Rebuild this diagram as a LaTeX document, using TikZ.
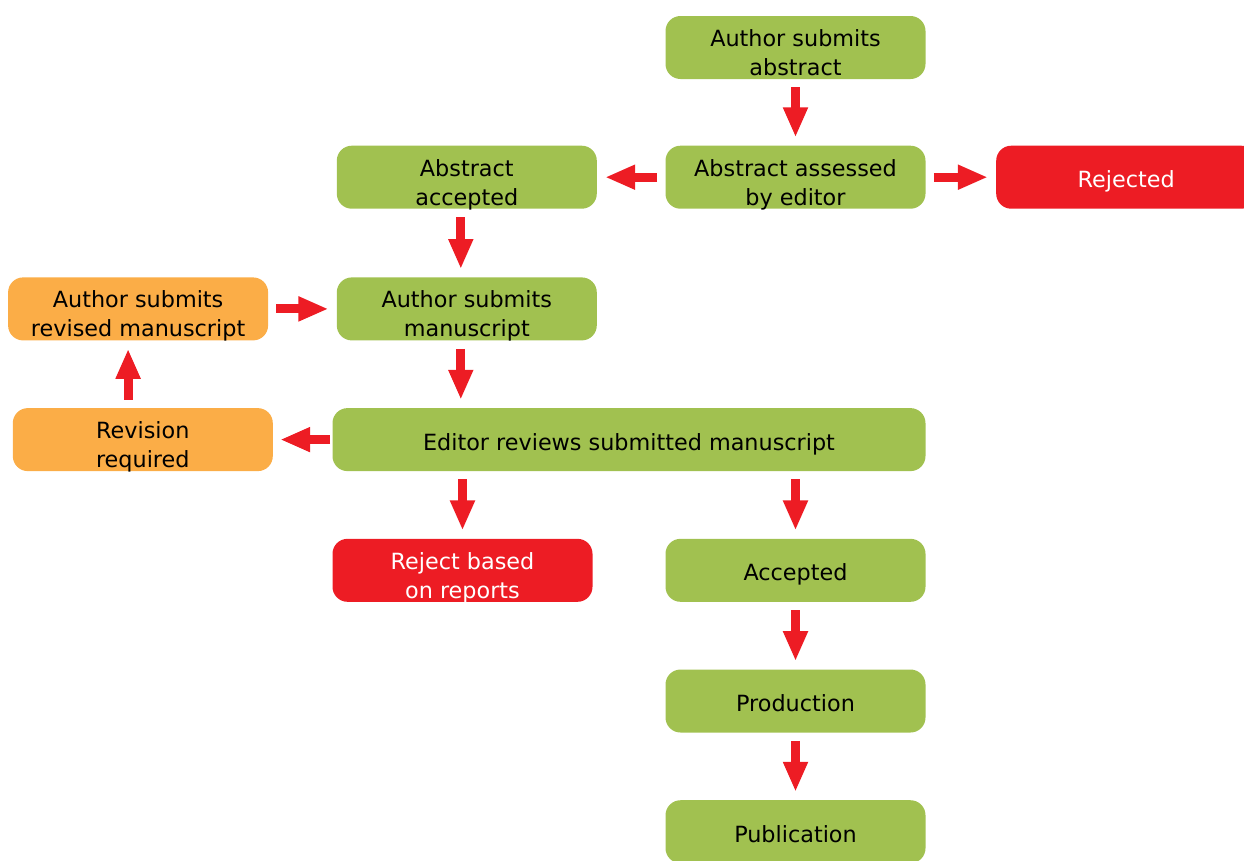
\documentclass[tikz,border=0pt]{standalone}
\usepackage{fontspec}
\setmainfont{DejaVu Sans}
\usepackage{tikz}
\usetikzlibrary{positioning,arrows.meta}
\definecolor{boxgreen}{HTML}{A1C150}
\definecolor{boxorange}{HTML}{FBAD47}
\definecolor{boxred}{HTML}{ED1C24}
\definecolor{arrowred}{HTML}{ED1C24}
\newcommand{\stagetext}[1]{\raisebox{0pt}[\height][\dimexpr\depth-0.3cm\relax]{\begin{tabular}{@{}c@{}}#1\end{tabular}}}
\tikzset{
  stage/.style={rounded corners=0.3cm, minimum width=5.2cm, minimum height=1.26cm,
    inner sep=0pt, font=\fontsize{12.7}{16.5}\selectfont},
  greenbox/.style={stage, fill=boxgreen, text=black},
  orangebox/.style={stage, fill=boxorange, text=black},
  redbox/.style={stage, fill=boxred, text=white},
  flow/.style={draw=arrowred, line width=0.18cm, shorten <=0.16cm, shorten >=0.16cm,
    -{Triangle[width=0.46cm,length=0.6cm]}}
}
\begin{document}
\begin{tikzpicture}
\useasboundingbox (0,0) rectangle (24.88,-17.2);
% nodes
\node[greenbox] (abs) at (15.91,-0.95) {\stagetext{Author submits\\abstract}};
\node[greenbox, below=1.32cm of abs] (assess) {\stagetext{Abstract assessed\\by editor}};
\node[greenbox, left=1.36cm of assess] (acc) {\stagetext{Abstract\\accepted}};
\node[redbox, right=1.4cm of assess] (rejab) {\stagetext{Rejected}};
\node[greenbox, below=1.36cm of acc] (ms) {\stagetext{Author submits\\manuscript}};
\node[orangebox, left=1.36cm of ms] (revised) {\stagetext{Author submits\\revised manuscript}};
\coordinate (edcorner) at (ms.south -| assess.east);
\node[greenbox, minimum width=11.86cm, below=1.34cm of edcorner, anchor=north east] (editor) {\stagetext{Editor reviews submitted manuscript}};
\node[orangebox, left=1.18cm of editor] (revreq) {\stagetext{Revision\\required}};
\node[redbox, below=1.34cm of editor.south west, anchor=north west] (rejrep) {\stagetext{Reject based\\on reports}};
\node[greenbox, below=1.34cm of editor.south east, anchor=north east] (accepted) {\stagetext{Accepted}};
\node[greenbox, below=1.34cm of accepted] (prod) {\stagetext{Production}};
\node[greenbox, below=1.34cm of prod] (pub) {\stagetext{Publication}};
% edges
\draw[flow] (abs) -- (assess);
\draw[flow] (assess) -- (acc);
\draw[flow] (assess) -- (rejab);
\draw[flow] ([xshift=-0.12cm]acc.south) -- ([xshift=-0.12cm]ms.north);
\draw[flow] (revised) -- (ms);
\draw[flow] ([xshift=-0.12cm]ms.south) -- ([xshift=-0.12cm]ms.south |- editor.north);
\draw[flow, shorten <=0.04cm, shorten >=0.14cm] (editor) -- (revreq);
\draw[flow] ([xshift=-0.2cm]revised.south |- revreq.north) -- ([xshift=-0.2cm]revised.south);
\draw[flow] (rejrep.north |- editor.south) -- (rejrep.north);
\draw[flow] (accepted.north |- editor.south) -- (accepted.north);
\draw[flow] (accepted) -- (prod);
\draw[flow] (prod) -- (pub);
\end{tikzpicture}
\end{document}
